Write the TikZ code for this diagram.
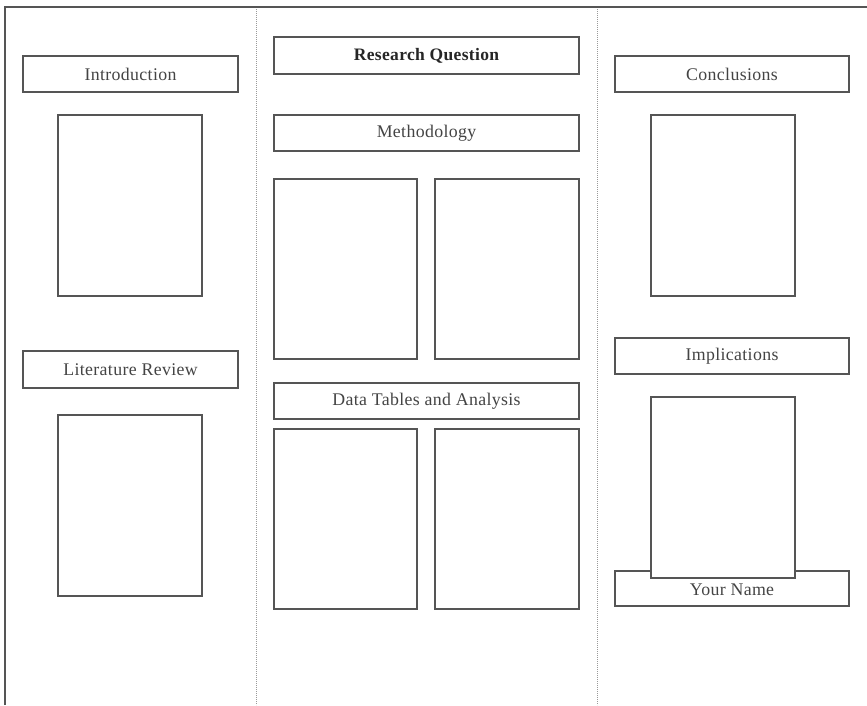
\documentclass[tikz,border=0pt]{standalone}
\usepackage{fontspec}
\setmainfont{Liberation Serif}
\newfontfamily\labelfont[LetterSpace=2]{Liberation Serif}
\definecolor{edge}{HTML}{555555}
\definecolor{ink}{HTML}{444444}
\begin{document}
\begin{tikzpicture}[x=1pt,y=-1pt,
  header/.style={draw=edge, line width=1.4pt, fill=white, inner sep=0pt,
    minimum height=36pt, font=\labelfont\fontsize{17.8}{20}\selectfont, text=ink},
  panel/.style={draw=edge, line width=1.4pt, fill=white, inner sep=0pt,
    minimum width=144pt, minimum height=181pt},
  fold/.style={draw=gray!80, line width=0.9pt, dash pattern=on 1.2pt off 0.8pt}]
\useasboundingbox (0,0) rectangle (867,705);
% page edge
\draw[edge, line width=1.6pt] (5,705) -- (5,7) -- (867,7);
% fold lines
\coordinate (f1t) at (256,9);  \coordinate (f1b) at (256,705);
\coordinate (f2t) at (597,9);  \coordinate (f2b) at (597,705);
\draw[fold] (f1t) -- (f1b);
\draw[fold] (f2t) -- (f2b);
% left column
\node[header, minimum width=215pt] (intro) at (130.5,74) {Introduction};
\node[panel] (introbox) at (130,205.5) {};
\node[header, minimum width=215pt, minimum height=37pt] (lit) at (130.5,369.5) {Literature Review};
\node[panel] (litbox) at (130,505.5) {};
% middle column
\node[header, minimum width=305pt, minimum height=37pt, font=\labelfont\fontsize{17.5}{20}\selectfont\bfseries, text=black!85] (rq) at (426.5,55.5) {Research Question};
\node[header, minimum width=305pt] (meth) at (426.5,133) {Methodology};
\node[panel, minimum width=143pt, minimum height=180pt] (m1) at (345.5,269) {};
\node[panel, minimum height=180pt] (m2) at (507,269) {};
\node[header, minimum width=305pt] (data) at (426.5,401) {Data Tables and Analysis};
\node[panel, minimum width=143pt, minimum height=180pt] (d1) at (345.5,519) {};
\node[panel, minimum height=180pt] (d2) at (507,519) {};
% right column
\node[header, minimum width=234pt] (concl) at (732,74) {Conclusions};
\node[panel] (conclbox) at (723,205.5) {};
\node[header, minimum width=234pt] (impl) at (732,356) {Implications};
\node[header, minimum width=234pt, minimum height=35pt, text depth=0pt] (name) at (732,588.5) {\raisebox{-3pt}{Your Name}};
\node[panel] (implbox) at (723,487.5) {};
\end{tikzpicture}
\end{document}
